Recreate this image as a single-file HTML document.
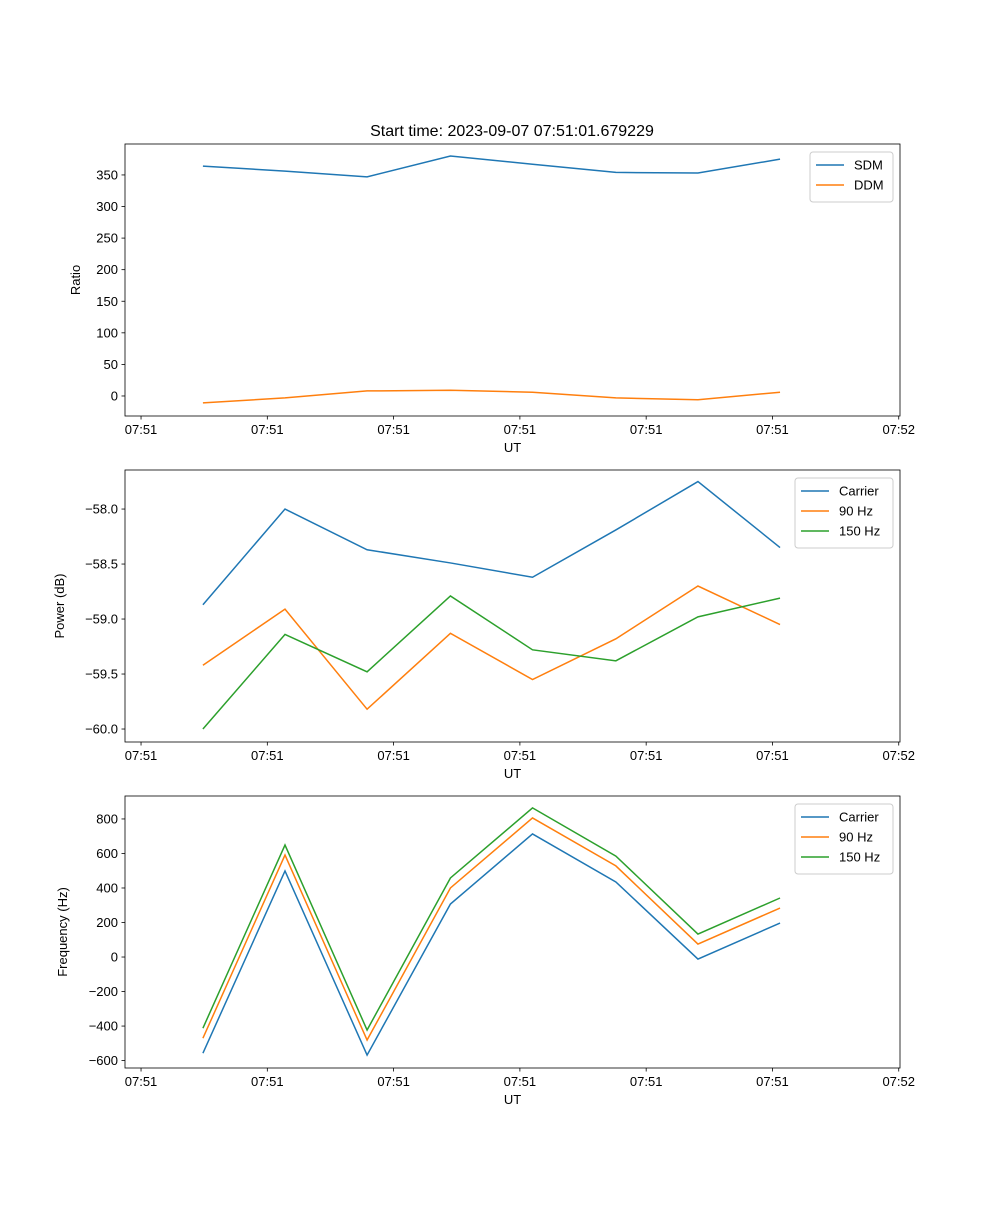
<!DOCTYPE html>
<html><head><meta charset="utf-8"><style>
body{margin:0;background:#fff}
svg text{font-family:"Liberation Sans","DejaVu Sans",sans-serif;fill:#000}
</style></head><body>
<svg id="fig" width="1000" height="1200" xmlns="http://www.w3.org/2000/svg">
<rect width="1000" height="1200" fill="#fff"/>
<text x="512" y="136" font-size="16" text-anchor="middle">Start time: 2023-09-07 07:51:01.679229</text>
</svg>
<script>
const times=[4.9,11.4,17.9,24.5,31.0,37.6,44.1,50.6];
const xTicks=[0,10,20,30,40,50,60];
const xTickLabels=["07:51","07:51","07:51","07:51","07:51","07:51","07:52"];
const sdm=[364,356,347,380,367,354,353,375];
const ddm=[-11,-3,8,9,6,-3,-6,6];
const pCarrier=[-58.87,-58.0,-58.37,-58.49,-58.62,-58.19,-57.75,-58.35];
const p90=[-59.42,-58.91,-59.82,-59.13,-59.55,-59.18,-58.70,-59.05];
const p150=[-60.0,-59.14,-59.48,-58.79,-59.28,-59.38,-58.98,-58.81];
const fCarrier=[-557,499,-568,307,713,435,-12,197];
const f90=[-470,591,-481,400,806,528,75,284];
const f150=[-412,649,-423,458,864,585,133,342];
const ticks1=[0,50,100,150,200,250,300,350];
const ticks2=[-60.0,-59.5,-59.0,-58.5,-58.0];
const ticks3=[-600,-400,-200,0,200,400,600,800];

const NS="http://www.w3.org/2000/svg";
const svg=document.getElementById('fig');
const C={b:"#1f77b4",o:"#ff7f0e",g:"#2ca02c"};
function el(t,a,p){const e=document.createElementNS(NS,t);for(const k in a)e.setAttribute(k,a[k]);(p||svg).appendChild(e);return e;}
const L=125,R=900,xmin=-1.27,xmax=60.1;
function xs(v){return L+(v-xmin)/(xmax-xmin)*(R-L);}
function fmt(v,dec){const s=Math.abs(v).toFixed(dec);return (v<0?"\u2212":"")+s;}
function panel(name,top,bot,ymin,ymax,yt,dec,ylabel,series,leg){
  const g=el('g',{});
  
  
  const ys=v=>bot-(v-ymin)/(ymax-ymin)*(bot-top);
  series.forEach(s=>{
    const pl=el('polyline',{points:s.d.map((v,i)=>xs(times[i])+','+ys(v)).join(' '),fill:'none',stroke:s.c,'stroke-width':1.5},g);
    
    
  });
  el('rect',{x:L,y:top,width:R-L,height:bot-top,fill:'none',stroke:'#000','stroke-width':0.8},g);
  xTicks.forEach((t,i)=>{const x=xs(t);el('line',{x1:x,x2:x,y1:bot,y2:bot+3.5,stroke:'#000','stroke-width':0.8},g);
    const tx=el('text',{x:x,y:bot+18,'font-size':13,'text-anchor':'middle'},g);tx.textContent=xTickLabels[i];
    
    });
  const xl=el('text',{x:(L+R)/2,y:bot+36,'font-size':13,'text-anchor':'middle'},g);xl.textContent='UT';
  
  
  yt.forEach(t=>{const y=ys(t);el('line',{x1:L-3.5,x2:L,y1:y,y2:y,stroke:'#000','stroke-width':0.8},g);
    const tx=el('text',{x:L-7,y:y+4.5,'font-size':13,'text-anchor':'end'},g);tx.textContent=fmt(t,dec);
    
    });
  const yl=el('text',{x:0,y:0,'font-size':13,'text-anchor':'middle',transform:`translate(${leg.yl},${(top+bot)/2}) rotate(-90)`},g);yl.textContent=ylabel;
  
  
  const lg=el('g',{},g);
  
  
  const h=10+series.length*20;
  el('rect',{x:leg.x,y:top+8,width:R-7-leg.x,height:h,fill:'#fff',stroke:'#ccc',rx:3},lg);
  series.forEach((s,i)=>{const y=top+21+i*20;
    el('line',{x1:leg.x+6,x2:leg.x+34,y1:y,y2:y,stroke:s.c,'stroke-width':1.5},lg);
    const tx=el('text',{x:leg.x+44,y:y+4.5,'font-size':13},lg);tx.textContent=s.n;
    
    });
}
panel('ratio',144,416,-31.7,399,ticks1,0,'Ratio',[{n:'SDM',d:sdm,c:C.b},{n:'DDM',d:ddm,c:C.o}],{x:810,yl:80});
panel('power',470,742,-60.118,-57.645,ticks2,1,'Power (dB)',[{n:'Carrier',d:pCarrier,c:C.b},{n:'90 Hz',d:p90,c:C.o},{n:'150 Hz',d:p150,c:C.g}],{x:795,yl:64});
panel('frequency',796,1068,-643,933,ticks3,0,'Frequency (Hz)',[{n:'Carrier',d:fCarrier,c:C.b},{n:'90 Hz',d:f90,c:C.o},{n:'150 Hz',d:f150,c:C.g}],{x:795,yl:67});
</script>
</body></html>
